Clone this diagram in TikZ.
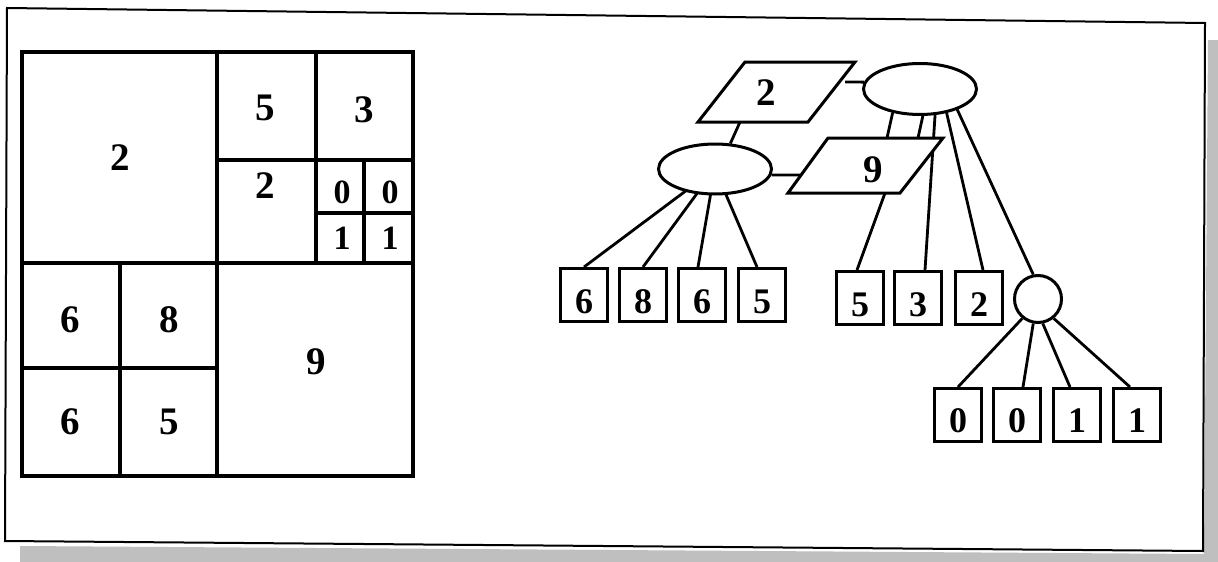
\documentclass[tikz,border=0pt]{standalone}
\usepackage{fontspec}
\setmainfont{Liberation Serif}
\usetikzlibrary{shapes.geometric,backgrounds}
\begin{document}
\begin{tikzpicture}[x=1pt,y=-1pt,
  gridline/.style={line width=3.2pt, line cap=round},
  conn/.style={line width=2.8pt},
  qcell/.style={font=\fontsize{39}{42}\selectfont\bfseries, inner sep=0pt},
  qsmall/.style={font=\fontsize{34}{38}\selectfont\bfseries, inner sep=0pt},
  qleaf/.style={draw, line width=3pt, fill=white, minimum width=47pt, minimum height=53pt, inner sep=0pt, text height=37pt, text depth=0pt, font=\fontsize{36}{40}\selectfont\bfseries},
  qnode/.style={draw, ellipse, line width=3pt, fill=white, inner sep=0pt},
  qpara/.style={draw, line width=3pt, fill=white, line join=miter},
  qlabel/.style={font=\fontsize{39}{42}\selectfont\bfseries, inner sep=0pt},
]
\useasboundingbox (0,0) rectangle (1218,562);

% ---------- right: tree nodes ----------
\node[qnode, minimum width=113pt, minimum height=51pt] (e1) at (920,89) {};
\node[qnode, minimum width=113pt, minimum height=50pt] (e2) at (715,169) {};
\node[draw, circle, line width=3pt, fill=white, minimum size=47pt, inner sep=0pt] (c) at (1038,299) {};

\node[qleaf] (l1) at (584,295) {6};
\node[qleaf] (l2) at (643,295) {8};
\node[qleaf] (l3) at (702,295) {6};
\node[qleaf] (l4) at (762,295) {5};

\node[qleaf] (r1) at (860,298) {5};
\node[qleaf] (r2) at (918,298) {3};
\node[qleaf] (r3) at (979,298) {2};

\node[qleaf, text height=35pt] (b1) at (958,415) {0};
\node[qleaf, text height=35pt] (b2) at (1017,415) {0};
\node[qleaf, text height=35pt] (b3) at (1077,415) {1};
\node[qleaf, text height=35pt] (b4) at (1137,415) {1};

% parallelograms
\coordinate (p2a) at (745,62);
\coordinate (p2b) at (855,62);
\coordinate (p2c) at (808,122);
\coordinate (p2d) at (698,122);
\coordinate (p2r) at (845,82);
\coordinate (p2s) at (740,122);
\draw[qpara] (p2a) -- (p2b) -- (p2c) -- (p2d) -- cycle;
\node[qlabel] (t2) at (766,93) {2};

\coordinate (p9a) at (828,138);
\coordinate (p9b) at (943,138);
\coordinate (p9c) at (900,193);
\coordinate (p9d) at (788,193);
\coordinate (p9l) at (801,175);
\coordinate (p9t1) at (887,138);
\coordinate (p9t2) at (918,138);
\coordinate (p9s) at (885,193);
\draw[qpara] (p9a) -- (p9b) -- (p9c) -- (p9d) -- cycle;
\node[qlabel] (t9) at (873,170) {9};

% ---------- left: quadtree grid ----------
\draw[gridline] (22,52) rectangle (413,476);
\draw[gridline] (217,52) -- (217,476);
\draw[gridline] (22,263) -- (413,263);
\draw[gridline] (316,52) -- (316,263);
\draw[gridline] (217,160) -- (413,160);
\draw[gridline] (364,160) -- (364,263);
\draw[gridline] (316,213) -- (413,213);
\draw[gridline] (120,263) -- (120,476);
\draw[gridline] (22,368) -- (217,368);

\node[qcell] (g1) at (120,158) {2};
\node[qcell] (g2) at (265,108) {5};
\node[qcell] (g3) at (364,110) {3};
\node[qcell] (g4) at (265,186) {2};
\node[qsmall] (g5) at (342,192) {0};
\node[qsmall] (g6) at (390,192) {0};
\node[qsmall] (g7) at (342,238) {1};
\node[qsmall] (g8) at (390,238) {1};
\node[qcell] (g9) at (70,320) {6};
\node[qcell] (g10) at (169,320) {8};
\node[qcell] (g11) at (316,362) {9};
\node[qcell] (g12) at (70,422) {6};
\node[qcell] (g13) at (169,422) {5};

% background, frame and connectors behind the shapes
\begin{scope}[on background layer]
\fill[white] (0,0) rectangle (1218,562);
\fill[black!25] (20,546) -- (1204,554) -- (1208,40) -- (1218,40) -- (1218,562) -- (20,562) -- cycle;
\draw[line width=2pt, fill=white] (7,8) -- (1205,23) -- (1203,551) -- (5,541) -- cycle;
\draw[conn] (p2r) -- (e1.173);
\draw[conn] (p2s) -- (e2.59);
\draw[conn] (e2.354) -- (p9l);
\draw[conn] (e1.221) -- (p9t1);
\draw[conn] (e1.276) -- (p9t2);
\draw[conn] (e1.300) -- ([xshift=7pt]r2.north);
\draw[conn] (e1.318) -- ([xshift=4pt]r3.north);
\draw[conn] (e1.331) -- (c.101);
\draw[conn] (p9s) -- ([xshift=-3pt]r1.north);
\draw[conn] (e2.center) -- (l1.north);
\draw[conn] (e2.center) -- (l2.north);
\draw[conn] (e2.center) -- ([xshift=-4pt]l3.north);
\draw[conn] (e2.center) -- ([xshift=-5pt]l4.north);
\draw[conn] (c.231) -- (b1.north);
\draw[conn] (c.259) -- ([xshift=6pt]b2.north);
\draw[conn] (c.281) -- ([xshift=-7pt]b3.north);
\draw[conn] (c.309) -- ([xshift=-7pt]b4.north);
\end{scope}
\end{tikzpicture}
\end{document}
